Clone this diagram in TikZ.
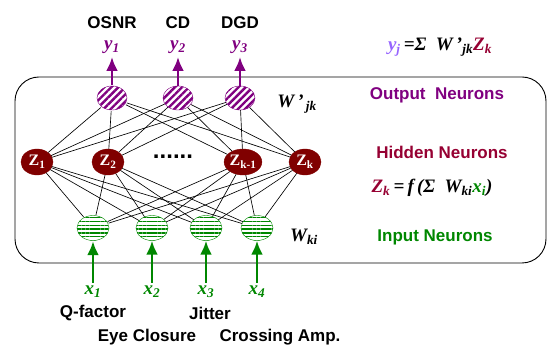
\documentclass[tikz,border=0pt]{standalone}
\usepackage{fontspec}
\setmainfont{Liberation Serif}
\setsansfont{Liberation Sans}
\usepackage{tikz}
\usetikzlibrary{arrows,arrows.meta,patterns.meta,positioning,shapes}

\definecolor{outpurple}{RGB}{128,0,128}
\definecolor{hidred}{RGB}{128,0,0}
\definecolor{hidtext}{RGB}{150,0,50}
\definecolor{ingreen}{RGB}{0,135,0}
\definecolor{ylight}{RGB}{150,100,255}

\tikzset{
  outneuron/.style={draw=outpurple, ellipse, minimum width=30pt, minimum height=24pt, inner sep=0pt,
    pattern={Lines[angle=45,distance=5pt,line width=2.4pt]}, pattern color=outpurple},
  hidneuron/.style={fill=hidred, draw=hidred, ellipse, minimum width=32pt, minimum height=26pt, inner sep=0pt,
    text=white, font=\fontsize{16}{16}\selectfont\bfseries},
  inneuron/.style={draw=ingreen, ellipse, minimum width=32pt, minimum height=25pt, inner sep=0pt,
    pattern={Lines[angle=0,distance=3.8pt,line width=1.4pt]}, pattern color=ingreen},
  lbl/.style={font=\fontsize{17}{17}\selectfont\sffamily\bfseries},
  var/.style={font=\fontsize{19}{19}\selectfont\bfseries\itshape},
  wire/.style={line width=0.65pt},
  feed/.style={-{Latex[length=14pt,width=12pt]}, line width=2.8pt},
}

\begin{document}
\begin{tikzpicture}[x=1pt,y=-1pt]
  \useasboundingbox (0,0) rectangle (550,347);
  \draw[line width=0.9pt, rounded corners=24pt] (15,77) rectangle (546,263);

  % output layer
  \node[outneuron] (o1) at (112,98) {};
  \node[outneuron] (o2) at (178,98) {};
  \node[outneuron] (o3) at (240,98) {};

  % hidden layer
  \node[hidneuron] (h1) at (37,162) {Z\textsubscript{1}};
  \node[hidneuron] (h2) at (108,162) {Z\textsubscript{2}};
  \node[font=\fontsize{24}{24}\selectfont\sffamily\bfseries] (dots) at (173,157) {......};
  \node[hidneuron] (h3) at (243,162) {Z\textsubscript{k-1}};
  \node[hidneuron] (h4) at (305,162) {Z\textsubscript{k}};

  % input layer
  \node[inneuron] (i1) at (93,228) {};
  \node[inneuron] (i2) at (152,228) {};
  \node[inneuron] (i3) at (206,228) {};
  \node[inneuron] (i4) at (257,228) {};

  % weights
  \foreach \o in {1,2,3}
    \foreach \h in {1,2,3,4}
      \draw[wire] (o\o) -- (h\h);
  \foreach \h in {1,2,3,4}
    \foreach \i in {1,2,3,4}
      \draw[wire] (h\h) -- (i\i);

  % outputs
  \foreach \o/\name/\x in {1/OSNR/112,2/CD/178,3/DGD/240} {
    \node[var, text=outpurple] (y\o) at (\x,47) {y\textsubscript{\o}};
    \node[lbl] (t\o) at (\x,23) {\name};
    \draw[feed, outpurple] (o\o) -- (y\o.south);
  }

  % inputs
  \foreach \i/\x in {1/93,2/152,3/206,4/257} {
    \node[var, text=ingreen] (x\i) at (\x,292) {x\textsubscript{\i}};
    \draw[feed, ingreen] (x\i.north) -- (i\i);
  }
  \node[lbl] (qf) at (93,313) {Q-factor};
  \node[lbl] (jit) at (210,313) {Jitter};
  \node[lbl] (eye) at (147,337) {Eye Closure};
  \node[lbl] (cross) at (280,337) {Crossing Amp.};

  % layer names and formulas
  \node[lbl, text=outpurple] (outname) at (437,95) {Output\ \ Neurons};
  \node[lbl, text=hidtext] (hidname) at (442,152) {Hidden Neurons};
  \node[lbl, text=ingreen] (inname) at (435,237) {Input Neurons};
  \node[var] (wout) at (297,104) {W\,'\textsubscript{\,jk}};
  \node[var] (win) at (304,237) {W\textsubscript{ki}};
  \node[var] (yform) at (440,47) {\textcolor{ylight}{y\textsubscript{j}}\,=Σ\ \ W\,'\textsubscript{jk}\textcolor{hidtext}{Z\textsubscript{k}}};
  \node[var] (zform) at (432,188) {\textcolor{hidtext}{Z\textsubscript{k}}\,=\,f\,(Σ\ \ W\textsubscript{ki}\textcolor{ingreen}{x\textsubscript{i}})};
\end{tikzpicture}
\end{document}
